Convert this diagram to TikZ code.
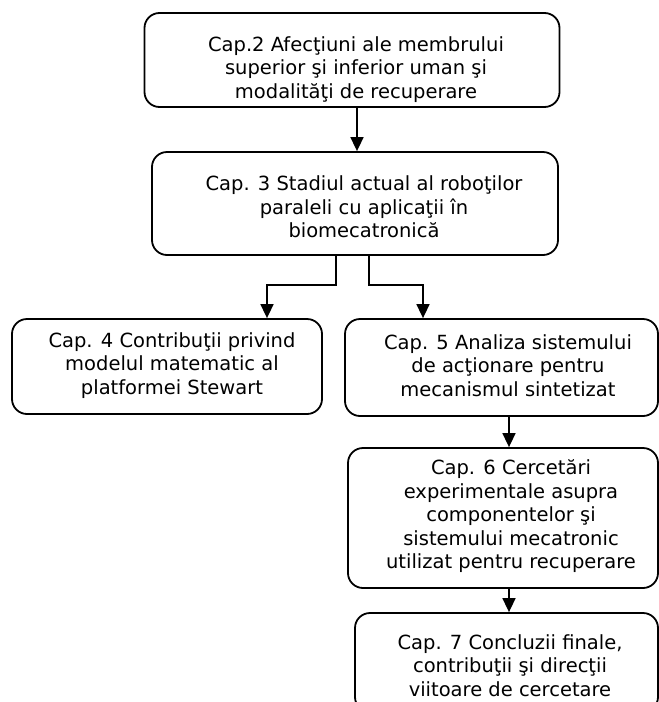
\documentclass[tikz,border=0pt]{standalone}
\usepackage{fontspec}
\setmainfont{DejaVu Sans}
\usetikzlibrary{arrows.meta}
\tikzset{
  boxnode/.style={draw, line width=1.8pt, rounded corners=15pt, inner sep=0pt},
  txtnode/.style={align=center, inner sep=0pt, font=\fontsize{19.5}{23.5}\selectfont},
  arr/.style={line width=1.6pt, -{Triangle[length=14pt,width=13pt]}},
  conn/.style={line width=1.6pt}
}
\begin{document}
\begin{tikzpicture}[x=1pt,y=-1pt]
\useasboundingbox (0,0) rectangle (659,702);
\clip (0,0) rectangle (659,702);
% boxes
\node[boxnode, minimum width=415pt, minimum height=94pt] (b1) at (352,60) {};
\node[boxnode, minimum width=406pt, minimum height=103pt] (b2) at (355,203.5) {};
\node[boxnode, minimum width=310pt, minimum height=95pt] (b4) at (167,366.5) {};
\node[boxnode, minimum width=313pt, minimum height=97pt] (b5) at (501.5,367.5) {};
\node[boxnode, minimum width=310pt, minimum height=140pt] (b6) at (503,518) {};
\node[boxnode, minimum width=303pt, minimum height=99pt] (b7) at (506.5,662.5) {};
% texts
\node[txtnode] (t1) at (356,69.5) {Cap.2 Afecţiuni ale membrului\\superior şi inferior uman şi\\modalităţi de recuperare};
\node[txtnode] (t2) at (364,207) {Cap. 3 Stadiul actual al roboţilor\\paraleli cu aplicaţii în\\biomecatronică};
\node[txtnode] (t4) at (172,365.5) {Cap. 4 Contribuţii privind\\modelul matematic al\\platformei Stewart};
\node[txtnode] (t5) at (508,365.5) {Cap. 5 Analiza sistemului\\de acţionare pentru\\mecanismul sintetizat};
\node[txtnode] (t6) at (511,516.5) {Cap. 6 Cercetări\\experimentale asupra\\componentelor şi\\sistemului mecatronic\\utilizat pentru recuperare};
\node[txtnode] (t7) at (510,665.5) {Cap. 7 Concluzii finale,\\contribuţii şi direcţii\\viitoare de cercetare};
% connector coordinates
\coordinate (a1) at (357,0);
\coordinate (l1) at (336,285);
\coordinate (l2) at (267,285);
\coordinate (r1) at (369,285);
\coordinate (r2) at (423,285);
\coordinate (a5) at (509,0);
% connectors
\draw[arr] (b1.south -| a1) -- (b2.north -| a1);
\draw[arr] (b2.south -| l1) -- (l1) -- (l2) -- (b4.north -| l2);
\draw[arr] (b2.south -| r1) -- (r1) -- (r2) -- (b5.north -| r2);
\draw[arr] (b5.south -| a5) -- (b6.north -| a5);
\draw[arr] (b6.south -| a5) -- (b7.north -| a5);
\end{tikzpicture}
\end{document}
